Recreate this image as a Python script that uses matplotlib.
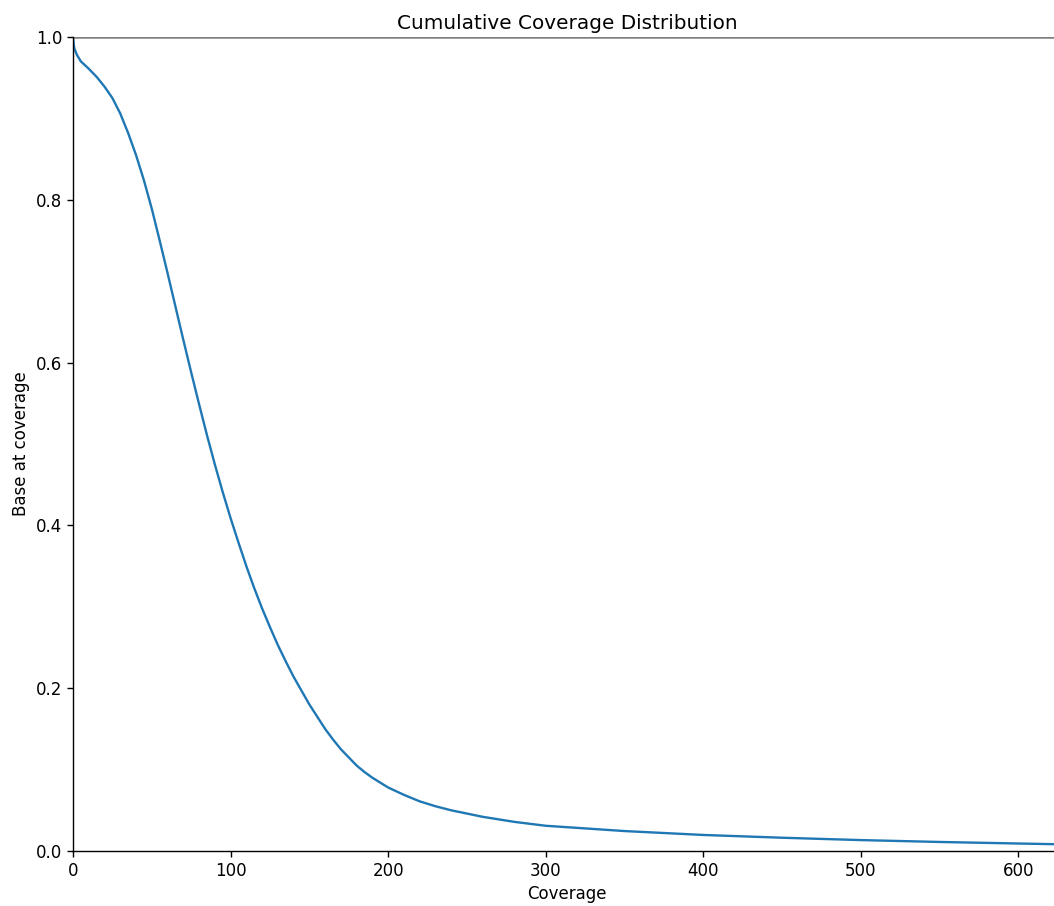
import matplotlib
matplotlib.use("Agg")
import matplotlib.pyplot as plt

plt.rcParams["font.size"] = 12

# coverage depth vs fraction of bases at or above that depth
coverage = [0, 0.5, 1, 2.5, 5, 10, 15, 20, 25, 30, 35, 40, 45, 50, 55, 60,
            65, 70, 75, 80, 85, 90, 95, 100, 105, 110, 115, 120, 125, 130,
            135, 140, 145, 150, 155, 160, 165, 170, 175, 180, 185, 190, 195,
            200, 210, 220, 230, 240, 260, 280, 300, 350, 400, 450, 500, 550,
            600, 630]
fraction = [1.0, 0.99, 0.985, 0.978, 0.970, 0.961, 0.951, 0.939, 0.925,
            0.906, 0.882, 0.855, 0.824, 0.789, 0.750, 0.710,
            0.669, 0.628, 0.588, 0.549, 0.511, 0.475, 0.441, 0.409, 0.379,
            0.350, 0.323, 0.298, 0.275, 0.253,
            0.233, 0.214, 0.197, 0.180, 0.165, 0.150, 0.137, 0.125, 0.115,
            0.105, 0.097, 0.090, 0.084,
            0.078, 0.069, 0.061, 0.055, 0.050, 0.042, 0.0358, 0.031, 0.0245,
            0.0197, 0.0163, 0.0134, 0.0111, 0.0092, 0.0081]

fig = plt.figure(figsize=(10.54, 9.06), dpi=100)
ax = fig.add_axes([73 / 1054, 55 / 906, (1061 - 73) / 1054, 814 / 906])

ax.plot(coverage, fraction, color="#1f77b4", linewidth=1.7)
ax.axhline(1.0, color="gray", linewidth=1.8)

ax.set_xlim(0, 627)
ax.set_ylim(0, 1.0)
ax.set_xticks([0, 100, 200, 300, 400, 500, 600])
ax.set_yticks([0.0, 0.2, 0.4, 0.6, 0.8, 1.0])
ax.spines["top"].set_visible(False)
ax.spines["right"].set_visible(False)
for side in ["left", "bottom"]:
    ax.spines[side].set_linewidth(1.0)
ax.tick_params(width=1.0, length=4.2)

ax.set_title("Cumulative Coverage Distribution", fontsize=14.4)
ax.set_xlabel("Coverage")
ax.set_ylabel("Base at coverage")

fig.savefig("out.png", dpi=100)
